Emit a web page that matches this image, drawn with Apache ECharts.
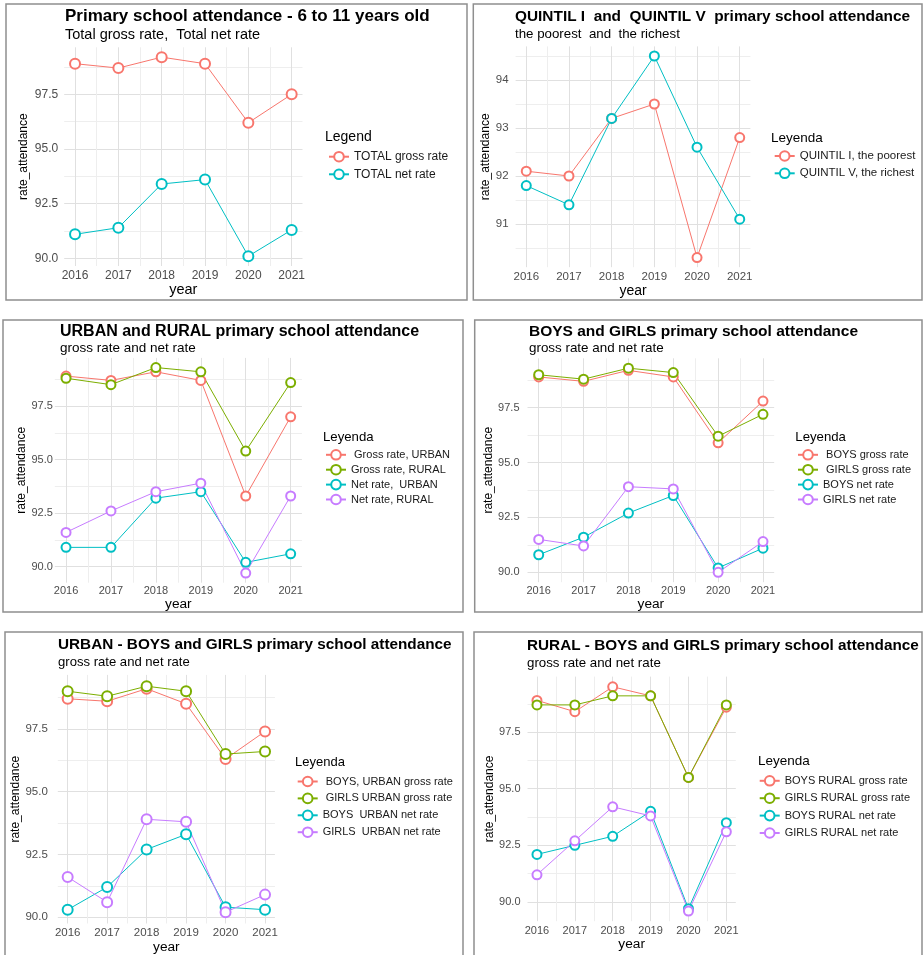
<!DOCTYPE html>
<html><head><meta charset="utf-8">
<script src="https://cdn.jsdelivr.net/npm/echarts@6/dist/echarts.min.js"></script>
<style>html,body{margin:0;padding:0;background:#fff}#c{width:923px;height:955px}</style>
</head><body><div id="c"></div>
<script>
// ---------- DATA ----------
const years = [2016, 2017, 2018, 2019, 2020, 2021];

// Panel 1
const p1Title = 'Primary school attendance - 6 to 11 years old';
const p1Sub = 'Total gross rate,  Total net rate';
const p1Names = ['TOTAL gross rate', 'TOTAL net rate'];
const p1Gross = [98.9, 98.7, 99.2, 98.9, 96.2, 97.5];
const p1Net = [91.1, 91.4, 93.4, 93.6, 90.1, 91.3];

// Panel 2
const p2Title = 'QUINTIL I  and  QUINTIL V  primary school attendance';
const p2Sub = 'the poorest  and  the richest';
const p2Names = ['QUINTIL I, the poorest', 'QUINTIL V, the richest'];
const p2Q1 = [92.1, 92.0, 93.2, 93.5, 90.3, 92.8];
const p2Q5 = [91.8, 91.4, 93.2, 94.5, 92.6, 91.1];

// Panel 3
const p3Title = 'URBAN and RURAL primary school attendance';
const p3Sub = 'gross rate and net rate';
const p3Names = [' Gross rate, URBAN', 'Gross rate, RURAL', 'Net rate,  URBAN', 'Net rate, RURAL'];
const p3GrossUrban = [98.9, 98.7, 99.1, 98.7, 93.3, 97.0];
const p3GrossRural = [98.8, 98.5, 99.3, 99.1, 95.4, 98.6];
const p3NetUrban = [90.9, 90.9, 93.2, 93.5, 90.2, 90.6];
const p3NetRural = [91.6, 92.6, 93.5, 93.9, 89.7, 93.3];

// Panel 4
const p4Title = 'BOYS and GIRLS primary school attendance';
const p4Sub = 'gross rate and net rate';
const p4Names = [' BOYS gross rate', ' GIRLS gross rate', 'BOYS net rate', 'GIRLS net rate'];
const p4BoysGross = [98.9, 98.7, 99.2, 98.9, 95.9, 97.8];
const p4GirlsGross = [99.0, 98.8, 99.3, 99.1, 96.2, 97.2];
const p4BoysNet = [90.8, 91.6, 92.7, 93.5, 90.2, 91.1];
const p4GirlsNet = [91.5, 91.2, 93.9, 93.8, 90.0, 91.4];

// Panel 5
const p5Title = 'URBAN - BOYS and GIRLS primary school attendance';
const p5Sub = 'gross rate and net rate';
const p5Names = [' BOYS, URBAN gross rate', ' GIRLS URBAN gross rate', 'BOYS  URBAN net rate', 'GIRLS  URBAN net rate'];
const p5BoysGross = [98.7, 98.6, 99.1, 98.5, 96.3, 97.4];
const p5GirlsGross = [99.0, 98.8, 99.2, 99.0, 96.5, 96.6];
const p5BoysNet = [90.3, 91.2, 92.7, 93.3, 90.4, 90.3];
const p5GirlsNet = [91.6, 90.6, 93.9, 93.8, 90.2, 90.9];

// Panel 6
const p6Title = 'RURAL - BOYS and GIRLS primary school attendance';
const p6Sub = 'gross rate and net rate';
const p6Names = ['BOYS RURAL gross rate', 'GIRLS RURAL gross rate', 'BOYS RURAL net rate', 'GIRLS RURAL net rate'];
const p6BoysGross = [98.9, 98.4, 99.5, 99.1, 95.5, 98.6];
const p6GirlsGross = [98.7, 98.7, 99.1, 99.1, 95.5, 98.7];
const p6BoysNet = [92.1, 92.5, 92.9, 94.0, 89.7, 93.5];
const p6GirlsNet = [91.2, 92.7, 94.2, 93.8, 89.6, 93.1];

// ---------- STYLE / LAYOUT ----------
const HUE2 = ['#F8766D', '#00BFC4'];
const HUE4 = ['#F8766D', '#7CAE00', '#00BFC4', '#C77CFF'];
const FONT = "'Liberation Sans', Arial, sans-serif";
const MAJOR = '#e0e0e0', MINOR = '#eeeeee', NONE = 'rgba(0,0,0,0)';

const panels = [
  { title: p1Title, sub: p1Sub, legTitle: 'Legend', names: p1Names, data: [p1Gross, p1Net], colors: HUE2, major: 2.5, dec: 1,
    L: { box: [6, 4, 461, 296], grid: [64.2, 47.3, 238.3, 218.7], tX: 65, tY: 7.5, tS: 17, sY: 27.8, sS: 14.5,
         lgX: 325, lgY: 130, lgS: 14, legX: 328, legY: 150.7, legGap: 5.6, legS: 12,
         tickS: 12, ym: 6, xm: 4, yGap: 35, ySz: 12, xGap: 15, xSz: 14.5, sym: 10 } },
  { title: p2Title, sub: p2Sub, legTitle: 'Leyenda', names: p2Names, data: [p2Q1, p2Q5], colors: HUE2, major: 1, dec: 0,
    L: { box: [473.3, 4, 448.7, 296], grid: [515.6, 46.4, 234.8, 220.8], tX: 515, tY: 9, tS: 15.4, sY: 28, sS: 13.3,
         lgX: 771, lgY: 131, lgS: 13.5, legX: 773.7, legY: 150, legGap: 5.3, legS: 11.5,
         tickS: 11.5, ym: 7, xm: 4, yGap: 22.6, ySz: 12, xGap: 16, xSz: 14, sym: 9 } },
  { title: p3Title, sub: p3Sub, legTitle: 'Leyenda', names: p3Names, data: [p3GrossUrban, p3GrossRural, p3NetUrban, p3NetRural], colors: HUE4, major: 2.5, dec: 1,
    L: { box: [3, 320, 460, 292], grid: [54.8, 357.9, 247.1, 224.8], tX: 60, tY: 323.7, tS: 16, sY: 341, sS: 13.5,
         lgX: 323, lgY: 431, lgS: 13.2, legX: 325, legY: 449, legGap: 3.3, legS: 11,
         tickS: 11, ym: 2, xm: 3, yGap: 27, ySz: 12, xGap: 12.6, xSz: 13.7, sym: 9 } },
  { title: p4Title, sub: p4Sub, legTitle: 'Leyenda', names: p4Names, data: [p4BoysGross, p4GirlsGross, p4BoysNet, p4GirlsNet], colors: HUE4, major: 2.5, dec: 1,
    L: { box: [474.7, 320, 447.3, 292], grid: [527.5, 358.3, 246.7, 223.9], tX: 529, tY: 324, tS: 15.5, sY: 341.7, sS: 13.4,
         lgX: 795.3, lgY: 431, lgS: 13.2, legX: 797, legY: 449, legGap: 3.3, legS: 11,
         tickS: 11, ym: 8, xm: 3, yGap: 31, ySz: 12, xGap: 13, xSz: 13.7, sym: 9 } },
  { title: p5Title, sub: p5Sub, legTitle: 'Leyenda', names: p5Names, data: [p5BoysGross, p5GirlsGross, p5BoysNet, p5GirlsNet], colors: HUE4, major: 2.5, dec: 1,
    L: { box: [5, 632, 458, 330], grid: [57.8, 674.9, 217.1, 249.1], tX: 58, tY: 637.3, tS: 15.3, sY: 656, sS: 13.1,
         lgX: 295, lgY: 755.5, lgS: 13, legX: 296.7, legY: 775.7, legGap: 5.3, legS: 11,
         tickS: 11.5, ym: 10, xm: 3.6, yGap: 31, ySz: 12, xGap: 14.7, xSz: 13.7, sym: 10 } },
  { title: p6Title, sub: p6Sub, legTitle: 'Leyenda', names: p6Names, data: [p6BoysGross, p6GirlsGross, p6BoysNet, p6GirlsNet], colors: HUE4, major: 2.5, dec: 1,
    L: { box: [474, 632, 448, 330], grid: [527.5, 676.6, 208.3, 244.6], tX: 527, tY: 638, tS: 15.3, sY: 657.3, sS: 13.3,
         lgX: 758, lgY: 754, lgS: 13.5, legX: 758.7, legY: 775, legGap: 5.8, legS: 11,
         tickS: 11, ym: 7, xm: 4.3, yGap: 31, ySz: 12, xGap: 16, xSz: 13.7, sym: 9 } }
];

function isMult(v, m) { const r = v / m; return Math.abs(r - Math.round(r)) < 1e-6; }
function lineColors(min, step, major) {
  const n = Math.round(major / step), arr = [];
  for (let i = 0; i < n; i++) {
    const v = min + step * i;
    arr.push(isMult(v, major) ? MAJOR : (isMult(v, major / 2) ? MINOR : NONE));
  }
  return arr;
}

const grids = [], xAxes = [], yAxes = [], series = [], titles = [], legends = [], graphics = [];
const X_MIN = 2015.75, X_MAX = 2021.25, X_STEP = 0.25, Y_STEP = 0.05;

panels.forEach((p, i) => {
  const L = p.L;
  const all = [].concat(...p.data);
  const lo = Math.min(...all), hi = Math.max(...all), pad = (hi - lo) * 0.05;
  // ggplot-like 5% expansion, snapped inward to the 0.05 tick step
  const yMin = +(Math.ceil((lo - pad) / Y_STEP - 1e-9) * Y_STEP).toFixed(2);
  const yMax = +(Math.floor((hi + pad) / Y_STEP + 1e-9) * Y_STEP).toFixed(2);

  graphics.push({ type: 'rect', shape: { x: L.box[0], y: L.box[1], width: L.box[2], height: L.box[3] },
    style: { fill: 'none', stroke: '#8f8f8f', lineWidth: 1.5 }, silent: true, z: 0 });

  grids.push({ left: L.grid[0], top: L.grid[1], width: L.grid[2], height: L.grid[3], containLabel: false });

  xAxes.push({ gridIndex: i, type: 'value', min: X_MIN, max: X_MAX, interval: X_STEP,
    axisLine: { show: false }, axisTick: { show: false },
    axisLabel: { formatter: v => isMult(v, 1) ? String(Math.round(v)) : '', color: '#4d4d4d', fontSize: L.tickS, margin: L.xm, fontFamily: FONT },
    splitLine: { show: true, lineStyle: { color: lineColors(X_MIN, X_STEP, 1), width: 1 } },
    name: 'year', nameLocation: 'middle', nameGap: L.xGap,
    nameTextStyle: { color: '#000', fontSize: L.xSz, fontFamily: FONT } });

  yAxes.push({ gridIndex: i, type: 'value', min: yMin, max: yMax, interval: Y_STEP,
    axisLine: { show: false }, axisTick: { show: false },
    axisLabel: { formatter: v => isMult(v, p.major) ? v.toFixed(p.dec) : '', color: '#4d4d4d', fontSize: L.tickS, margin: L.ym, fontFamily: FONT },
    splitLine: { show: true, lineStyle: { color: lineColors(yMin, Y_STEP, p.major), width: 1 } },
    name: 'rate_attendance', nameLocation: 'middle', nameGap: L.yGap, nameRotate: 90,
    nameTextStyle: { color: '#000', fontSize: L.ySz, fontFamily: FONT } });

  p.data.forEach((vals, k) => {
    series.push({ type: 'line', name: p.names[k], xAxisIndex: i, yAxisIndex: i,
      data: years.map((y, j) => [y, vals[j]]),
      symbol: 'emptyCircle', symbolSize: L.sym, showSymbol: true,
      lineStyle: { color: p.colors[k], width: 1 },
      itemStyle: { color: p.colors[k], borderColor: p.colors[k], borderWidth: 1 },
      emphasis: { disabled: true }, silent: true, animation: false });
  });

  titles.push({ text: p.title, left: L.tX, top: L.tY, padding: 0,
    textStyle: { fontSize: L.tS, fontWeight: 'bold', color: '#000', fontFamily: FONT } });
  titles.push({ text: p.sub, left: L.tX, top: L.sY, padding: 0,
    textStyle: { fontSize: L.sS, fontWeight: 'normal', color: '#000', fontFamily: FONT } });
  titles.push({ text: p.legTitle, left: L.lgX, top: L.lgY, padding: 0,
    textStyle: { fontSize: L.lgS, fontWeight: 'normal', color: '#000', fontFamily: FONT } });

  legends.push({ data: p.names, orient: 'vertical', left: L.legX, top: L.legY, padding: 0,
    itemWidth: 20, itemHeight: 12, itemGap: L.legGap, selectedMode: false,
    textStyle: { fontSize: L.legS, color: '#1a1a1a', fontFamily: FONT } });
});

const chart = echarts.init(document.getElementById('c'), null, { renderer: 'canvas' });
chart.setOption({
  animation: false,
  backgroundColor: '#fff',
  textStyle: { fontFamily: FONT },
  title: titles,
  legend: legends,
  grid: grids,
  xAxis: xAxes,
  yAxis: yAxes,
  series: series,
  graphic: graphics
});
</script>
</body></html>
